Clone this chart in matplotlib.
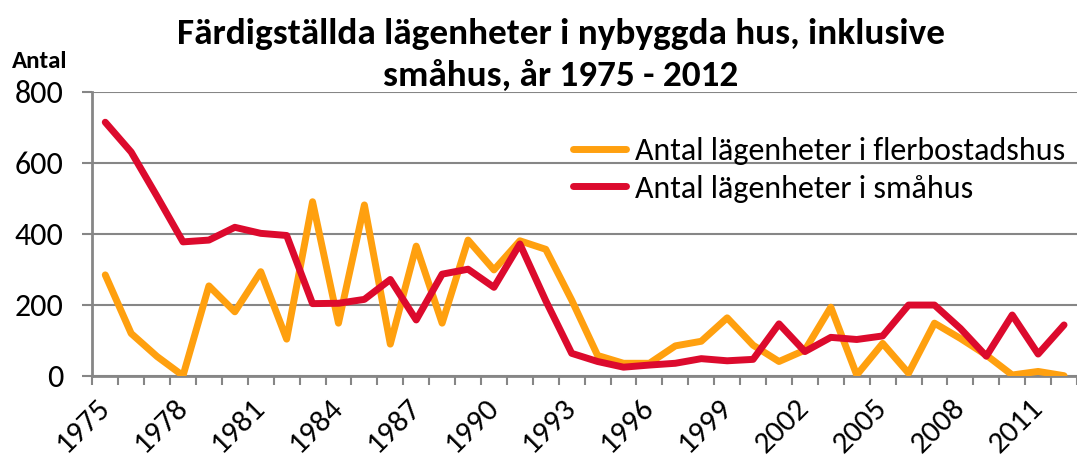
import matplotlib
matplotlib.use("Agg")
import matplotlib.pyplot as plt
from matplotlib import font_manager
from matplotlib.font_manager import FontProperties


years = list(range(1975, 2013))

flerbostadshus = [284, 119, 54, 0, 253, 180, 293, 103, 490, 148,
                  481, 89, 365, 148, 382, 298, 380, 356, 213, 57,
                  35, 35, 84, 97, 163, 86, 40, 72, 193, 2,
                  91, 7, 148, 105, 58, 2, 12, 0]

smahus = [714, 630, 505, 377, 382, 418, 401, 395, 203, 204,
          215, 271, 157, 286, 300, 249, 371, 211, 63, 40,
          24, 30, 35, 48, 42, 46, 146, 68, 108, 102,
          112, 199, 199, 133, 55, 171, 61, 143]

label_years = list(range(1975, 2013, 3))
y_ticks = [0, 200, 400, 600, 800]

title = "Färdigställda lägenheter i nybyggda hus, inklusive\nsmåhus, år 1975 - 2012"
y_label = "Antal"
series_names = ["Antal lägenheter i flerbostadshus", "Antal lägenheter i småhus"]


def pick_font(candidates):
    for name in candidates:
        try:
            font_manager.findfont(FontProperties(family=name), fallback_to_default=False)
            return name
        except ValueError:
            pass
    return "DejaVu Sans"


font = pick_font(["Carlito", "Liberation Sans Narrow", "Lato"])
plt.rcParams["font.family"] = [font, "DejaVu Sans"]

W, H = 1077, 459
fig = plt.figure(figsize=(W / 100, H / 100), dpi=100)

left, right = 92.3, 1077
top, bottom = 91.7, 375.7
ax = fig.add_axes([left / W, (H - bottom) / H, (right - left) / W, (bottom - top) / H])

grey = "#868686"
orange = "#FFA00F"
red = "#DC0A2D"

ax.plot(years, flerbostadshus, color=orange, lw=5, solid_joinstyle="round",
        solid_capstyle="round", label=series_names[0], zorder=3)
ax.plot(years, smahus, color=red, lw=5, solid_joinstyle="round",
        solid_capstyle="round", label=series_names[1], zorder=4)

cat_w = 26.2
ax.set_xlim(1974.5, 1974.5 + (right - left) / cat_w)
ax.set_ylim(0, 800)

ax.set_yticks(y_ticks)
ax.set_yticklabels([str(v) for v in y_ticks])
ax.yaxis.grid(True, color=grey, lw=1.5, zorder=0)
ax.set_axisbelow(True)

# tick marks on category boundaries, labels on every third category
ax.set_xticks([y - 0.5 for y in years] + [years[-1] + 0.5])
ax.set_xticklabels([])
ax.set_xticks(label_years, minor=True)
ax.set_xticklabels([str(y) for y in label_years], minor=True, rotation=45,
                   ha="right", va="center", rotation_mode="anchor")

ax.tick_params(axis="x", which="major", direction="out", length=6.5, width=1.5, color=grey)
ax.tick_params(axis="x", which="minor", length=0, pad=20, labelsize=22.5)
ax.tick_params(axis="y", direction="out", length=7, width=1.5, color=grey, pad=14, labelsize=23)

for s in ["top", "right"]:
    ax.spines[s].set_visible(False)
for s in ["left", "bottom"]:
    ax.spines[s].set_color(grey)
    ax.spines[s].set_linewidth(2)

fig.text(561 / W, 1 - 55 / H, title, ha="center", va="center",
         fontsize=26.8, fontweight="bold", linespacing=1.36)
fig.text(12 / W, 1 - 62 / H, y_label, ha="left", va="center",
         fontsize=18, fontweight="bold")

ax.legend(loc="upper left", bbox_to_anchor=(573 / W, 1 - 137 / H),
          bbox_transform=fig.transFigure, frameon=False, fontsize=23,
          handlelength=1.65, handletextpad=0.3, labelspacing=0.3,
          borderpad=0, borderaxespad=0)

fig.savefig("out.png", dpi=100)
